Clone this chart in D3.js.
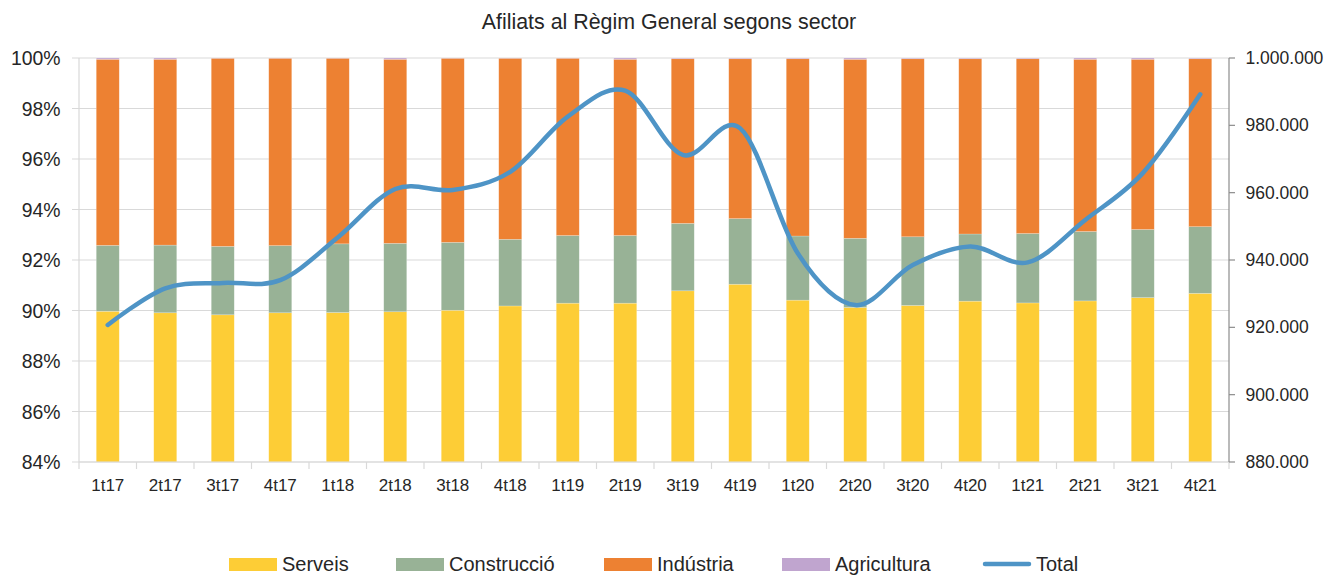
<!DOCTYPE html>
<html>
<head>
<meta charset="utf-8">
<script src="https://cdn.jsdelivr.net/npm/d3@7"></script>
<style>
  body { margin: 0; background: #fff; }
  text { font-family: "Liberation Sans", Arial, sans-serif; fill: #262626; }
</style>
</head>
<body>
<div id="chart"></div>
<script>
var quarters = ['1t17', '2t17', '3t17', '4t17', '1t18', '2t18', '3t18', '4t18', '1t19', '2t19',
    '3t19', '4t19', '1t20', '2t20', '3t20', '4t20', '1t21', '2t21', '3t21', '4t21'];
// shares in %
var serveis = [89.97, 89.91, 89.83, 89.91, 89.92, 89.95, 90.01, 90.18, 90.29, 90.29,
    90.78, 91.04, 90.41, 90.12, 90.20, 90.37, 90.30, 90.38, 90.51, 90.68];
var construccio = [2.61, 2.68, 2.71, 2.66, 2.72, 2.71, 2.69, 2.64, 2.68, 2.68,
    2.67, 2.60, 2.54, 2.74, 2.72, 2.66, 2.75, 2.75, 2.70, 2.64];
var industria = [7.37, 7.36, 7.45, 7.42, 7.35, 7.29, 7.29, 7.17, 7.02, 6.98,
    6.52, 6.33, 7.02, 7.09, 7.05, 6.94, 6.92, 6.82, 6.74, 6.65];
var agricultura = [0.05, 0.05, 0.01, 0.01, 0.01, 0.05, 0.01, 0.01, 0.01, 0.05,
    0.03, 0.03, 0.03, 0.05, 0.03, 0.03, 0.03, 0.05, 0.05, 0.03];
// total affiliates
var total = [920700, 931600, 933200, 934000, 946700, 961100, 960800, 966200, 982600, 990300,
    971200, 979100, 942000, 926600, 938500, 944000, 939300, 951900, 965800, 989200];
var leftTicks = [84, 86, 88, 90, 92, 94, 96, 98, 100];
var rightTicks = [880000, 900000, 920000, 940000, 960000, 980000, 1000000];

var sectors = [
    { key: 'Serveis', values: serveis, color: '#FDCD36' },
    { key: 'Construcció', values: construccio, color: '#98B296' },
    { key: 'Indústria', values: industria, color: '#ED8132' },
    { key: 'Agricultura', values: agricultura, color: '#C0A5CF' }
];
var lineColor = '#4E94C6';

var W = 1338, H = 577;
var margin = { top: 58, right: 109, bottom: 115, left: 79 };
var width = W - margin.left - margin.right;
var height = H - margin.top - margin.bottom;

var svg = d3.select('#chart').append('svg').attr('width', W).attr('height', H);

svg.append('text').attr('x', 669).attr('y', 29).attr('text-anchor', 'middle')
    .style('font-size', '21.4px').text('Afiliats al Règim General segons sector');

var g = svg.append('g').attr('transform', 'translate(' + margin.left + ',' + margin.top + ')');

var x = d3.scaleBand().domain(quarters).range([0, width]).paddingInner(0.6).paddingOuter(0.3);
var y = d3.scaleLinear().domain([84, 100]).range([height, 0]).clamp(true);
var y2 = d3.scaleLinear().domain([880000, 1000000]).range([height, 0]);

// gridlines
g.selectAll('.grid').data(leftTicks).enter().append('line')
    .attr('x1', -7).attr('x2', width)
    .attr('y1', function(d) { return y(d); }).attr('y2', function(d) { return y(d); })
    .attr('stroke', '#d9d9d9').attr('stroke-width', 1.2);

// left axis line
g.append('line').attr('x1', 0).attr('x2', 0).attr('y1', 0).attr('y2', height)
    .attr('stroke', '#d9d9d9').attr('stroke-width', 1.2);

// stack the data
var rows = quarters.map(function(q, i) {
    var r = { q: q };
    sectors.forEach(function(s) { r[s.key] = s.values[i]; });
    return r;
});
var stack = d3.stack().keys(sectors.map(function(s) { return s.key; }));
var series = stack(rows);

g.selectAll('.layer').data(series).enter().append('g')
    .attr('fill', function(d, i) { return sectors[i].color; })
    .selectAll('rect').data(function(d) { return d; }).enter().append('rect')
    .attr('x', function(d) { return x(d.data.q); })
    .attr('width', x.bandwidth())
    .attr('y', function(d) { return y(Math.min(d[1], 100)); })
    .attr('height', function(d) { return y(d[0]) - y(Math.min(d[1], 100)); })
    .attr('stroke', '#fff').attr('stroke-opacity', 0.35).attr('stroke-width', 0.6);

// bottom axis
var xAxis = g.append('g').attr('transform', 'translate(0,' + height + ')');
xAxis.append('line').attr('x1', 0).attr('x2', width).attr('stroke', '#d9d9d9').attr('stroke-width', 1.2);
var step = x.step();
xAxis.selectAll('.xt').data(d3.range(quarters.length + 1)).enter().append('line')
    .attr('x1', function(d) { return d * step; }).attr('x2', function(d) { return d * step; })
    .attr('y1', 0).attr('y2', 7).attr('stroke', '#d9d9d9').attr('stroke-width', 1.2);
xAxis.selectAll('.xl').data(quarters).enter().append('text')
    .attr('x', function(d) { return x(d) + x.bandwidth() / 2; })
    .attr('y', 29).attr('text-anchor', 'middle').style('font-size', '17px')
    .text(function(d) { return d; });

// left labels
g.selectAll('.yl').data(leftTicks).enter().append('text')
    .attr('x', -18.5).attr('y', function(d) { return y(d) + 7; })
    .attr('text-anchor', 'end').style('font-size', '19.4px')
    .text(function(d) { return d + '%'; });

// right axis
var fmt = d3.formatLocale({ decimal: ',', thousands: '.', grouping: [3], currency: ['', '€'] }).format(',');
var rAxis = g.append('g').attr('transform', 'translate(' + width + ',0)');
rAxis.append('line').attr('y1', 0).attr('y2', height).attr('stroke', '#8c8c8c').attr('stroke-width', 1.2);
rAxis.selectAll('.rt').data(rightTicks).enter().append('line')
    .attr('x1', 0).attr('x2', 6)
    .attr('y1', function(d) { return y2(d); }).attr('y2', function(d) { return y2(d); })
    .attr('stroke', '#8c8c8c').attr('stroke-width', 1.2);
rAxis.selectAll('.rl').data(rightTicks).enter().append('text')
    .attr('x', 16.5).attr('y', function(d) { return y2(d) + 6; })
    .style('font-size', '17.5px')
    .text(function(d) { return fmt(d); });

// total line
var line = d3.line()
    .x(function(d, i) { return x(quarters[i]) + x.bandwidth() / 2; })
    .y(function(d) { return y2(d); })
    .curve(d3.curveCardinal.tension(0));
g.append('path').datum(total).attr('d', line)
    .attr('fill', 'none').attr('stroke', lineColor).attr('stroke-width', 4.5)
    .attr('stroke-linecap', 'round');

// legend
var legendItems = [
    { label: 'Serveis', color: sectors[0].color, x: 229, type: 'rect' },
    { label: 'Construcció', color: sectors[1].color, x: 396, type: 'rect' },
    { label: 'Indústria', color: sectors[2].color, x: 604, type: 'rect' },
    { label: 'Agricultura', color: sectors[3].color, x: 782, type: 'rect' },
    { label: 'Total', color: lineColor, x: 983, type: 'line' }
];
var legend = svg.append('g').attr('transform', 'translate(0,564)');
legendItems.forEach(function(it) {
    if (it.type === 'rect') {
        legend.append('rect').attr('x', it.x).attr('y', -6).attr('width', 48).attr('height', 13).attr('fill', it.color);
    } else {
        legend.append('line').attr('x1', it.x + 2).attr('x2', it.x + 46).attr('y1', 0).attr('y2', 0)
            .attr('stroke', it.color).attr('stroke-width', 4.5).attr('stroke-linecap', 'round');
    }
    legend.append('text').attr('x', it.x + 53).attr('y', 7).style('font-size', '20px').text(it.label);
});
</script>
</body>
</html>
